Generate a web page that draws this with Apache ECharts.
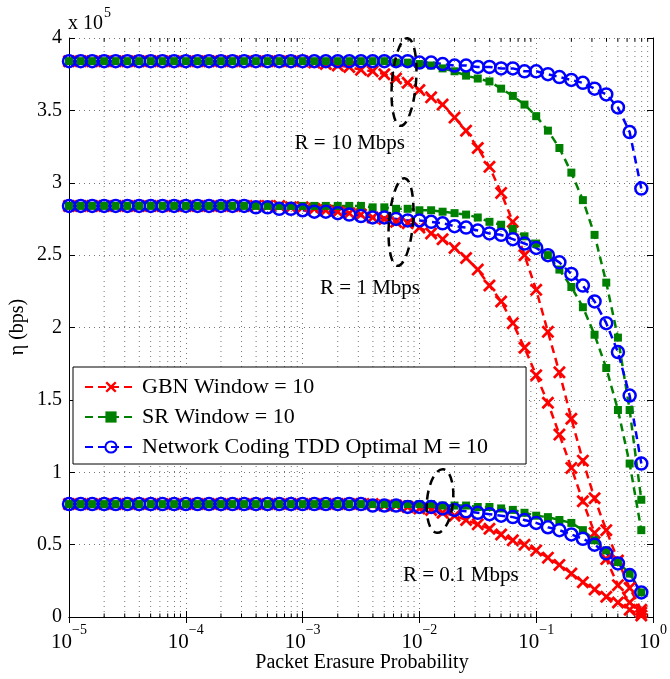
<!DOCTYPE html>
<html>
<head>
<meta charset="utf-8">
<script src="https://cdn.jsdelivr.net/npm/echarts@6/dist/echarts.min.js"></script>
<style>
  html, body { margin: 0; padding: 0; background: #fff; }
  #main { width: 670px; height: 679px; }
</style>
</head>
<body>
<div id="main"></div>
<script>
// packet erasure probability (10 points per decade)
var pValues = [
  1.00e-5, 1.26e-5, 1.58e-5, 2.00e-5, 2.51e-5, 3.16e-5, 3.98e-5, 5.01e-5, 6.31e-5, 7.94e-5,
  1.00e-4, 1.26e-4, 1.58e-4, 2.00e-4, 2.51e-4, 3.16e-4, 3.98e-4, 5.01e-4, 6.31e-4, 7.94e-4,
  1.00e-3, 1.26e-3, 1.58e-3, 2.00e-3, 2.51e-3, 3.16e-3, 3.98e-3, 5.01e-3, 6.31e-3, 7.94e-3,
  1.00e-2, 1.26e-2, 1.58e-2, 2.00e-2, 2.51e-2, 3.16e-2, 3.98e-2, 5.01e-2, 6.31e-2, 7.94e-2,
  1.00e-1, 1.26e-1, 1.58e-1, 2.00e-1, 2.51e-1, 3.16e-1, 3.98e-1, 5.01e-1, 6.31e-1, 7.94e-1
];

// throughput, units of 10^5 bps
// R = 10 Mbps
var gbn10 = [
  3.84, 3.84, 3.84, 3.84, 3.84, 3.84, 3.84, 3.84, 3.84, 3.84,
  3.84, 3.84, 3.84, 3.84, 3.84, 3.84, 3.84, 3.84, 3.84, 3.84,
  3.84, 3.83, 3.82, 3.81, 3.80, 3.78, 3.77, 3.75, 3.72, 3.69,
  3.64, 3.59, 3.54, 3.45, 3.36, 3.24, 3.11, 2.93, 2.73, 2.50,
  2.26, 1.97, 1.69, 1.37, 1.08, 0.82, 0.60, 0.39, 0.20, 0.05
];
var sr10 = [
  3.84, 3.84, 3.84, 3.84, 3.84, 3.84, 3.84, 3.84, 3.84, 3.84,
  3.84, 3.84, 3.84, 3.84, 3.84, 3.84, 3.84, 3.84, 3.84, 3.84,
  3.84, 3.84, 3.84, 3.84, 3.84, 3.84, 3.84, 3.84, 3.83, 3.83,
  3.82, 3.81, 3.79, 3.77, 3.74, 3.72, 3.70, 3.65, 3.60, 3.54,
  3.46, 3.36, 3.24, 3.07, 2.88, 2.64, 2.31, 1.93, 1.43, 0.81
];
var nc10 = [
  3.84, 3.84, 3.84, 3.84, 3.84, 3.84, 3.84, 3.84, 3.84, 3.84,
  3.84, 3.84, 3.84, 3.84, 3.84, 3.84, 3.84, 3.84, 3.84, 3.84,
  3.84, 3.84, 3.84, 3.84, 3.84, 3.84, 3.84, 3.84, 3.84, 3.84,
  3.83, 3.83, 3.82, 3.81, 3.81, 3.80, 3.80, 3.79, 3.79, 3.77,
  3.77, 3.75, 3.73, 3.71, 3.69, 3.65, 3.61, 3.52, 3.35, 2.96
];
// R = 1 Mbps
var gbn1 = [
  2.84, 2.84, 2.84, 2.84, 2.84, 2.84, 2.84, 2.84, 2.84, 2.84,
  2.84, 2.84, 2.84, 2.84, 2.84, 2.84, 2.84, 2.84, 2.84, 2.83,
  2.83, 2.82, 2.81, 2.80, 2.79, 2.78, 2.76, 2.75, 2.73, 2.72,
  2.69, 2.65, 2.61, 2.55, 2.48, 2.40, 2.29, 2.18, 2.03, 1.86,
  1.67, 1.48, 1.26, 1.03, 0.80, 0.58, 0.40, 0.22, 0.10, 0.03
];
var sr1 = [
  2.84, 2.84, 2.84, 2.84, 2.84, 2.84, 2.84, 2.84, 2.84, 2.84,
  2.84, 2.84, 2.84, 2.84, 2.84, 2.84, 2.84, 2.84, 2.84, 2.84,
  2.84, 2.84, 2.84, 2.84, 2.84, 2.84, 2.83, 2.83, 2.82, 2.82,
  2.81, 2.81, 2.80, 2.79, 2.78, 2.76, 2.73, 2.71, 2.68, 2.63,
  2.58, 2.50, 2.40, 2.28, 2.14, 1.95, 1.72, 1.43, 1.06, 0.60
];
var nc1 = [
  2.84, 2.84, 2.84, 2.84, 2.84, 2.84, 2.84, 2.84, 2.84, 2.84,
  2.84, 2.84, 2.84, 2.84, 2.84, 2.84, 2.83, 2.83, 2.82, 2.82,
  2.81, 2.80, 2.80, 2.79, 2.78, 2.77, 2.76, 2.76, 2.75, 2.74,
  2.74, 2.73, 2.72, 2.70, 2.69, 2.67, 2.65, 2.64, 2.61, 2.58,
  2.55, 2.50, 2.45, 2.37, 2.29, 2.18, 2.03, 1.83, 1.53, 1.06
];
// R = 0.1 Mbps
var gbn01 = [
  0.78, 0.78, 0.78, 0.78, 0.78, 0.78, 0.78, 0.78, 0.78, 0.78,
  0.78, 0.78, 0.78, 0.78, 0.78, 0.78, 0.78, 0.78, 0.78, 0.78,
  0.78, 0.78, 0.78, 0.78, 0.78, 0.78, 0.78, 0.77, 0.77, 0.76,
  0.75, 0.74, 0.72, 0.70, 0.67, 0.64, 0.61, 0.57, 0.53, 0.50,
  0.46, 0.41, 0.36, 0.30, 0.24, 0.19, 0.14, 0.10, 0.05, 0.01
];
var sr01 = [
  0.78, 0.78, 0.78, 0.78, 0.78, 0.78, 0.78, 0.78, 0.78, 0.78,
  0.78, 0.78, 0.78, 0.78, 0.78, 0.78, 0.78, 0.78, 0.78, 0.78,
  0.78, 0.78, 0.78, 0.78, 0.78, 0.78, 0.78, 0.78, 0.78, 0.78,
  0.78, 0.78, 0.77, 0.77, 0.77, 0.76, 0.76, 0.75, 0.74, 0.72,
  0.70, 0.69, 0.67, 0.65, 0.60, 0.53, 0.46, 0.38, 0.30, 0.17
];
var nc01 = [
  0.78, 0.78, 0.78, 0.78, 0.78, 0.78, 0.78, 0.78, 0.78, 0.78,
  0.78, 0.78, 0.78, 0.78, 0.78, 0.78, 0.78, 0.78, 0.78, 0.78,
  0.78, 0.78, 0.78, 0.78, 0.78, 0.78, 0.77, 0.77, 0.77, 0.76,
  0.76, 0.76, 0.75, 0.74, 0.73, 0.72, 0.71, 0.70, 0.69, 0.67,
  0.65, 0.62, 0.60, 0.57, 0.54, 0.50, 0.44, 0.37, 0.29, 0.17
];

var xTickExp = { '-5': '−5', '-4': '−4', '-3': '−3', '-2': '−2', '-1': '−1', '0': '0' };
var yTickLabels = ['0', '0.5', '1', '1.5', '2', '2.5', '3', '3.5', '4'];
var legendNames = ['GBN Window = 10', 'SR Window = 10', 'Network Coding TDD Optimal M = 10'];

// log-axis minor grid positions (2..9 in each decade)
var minorX = [];
for (var d = -5; d < 0; d++) {
  for (var m = 2; m <= 9; m++) minorX.push([m * Math.pow(10, d)]);
}

var FONT = 'Liberation Serif';
var RED = '#ff0000', GREEN = '#008000', BLUE = '#0000ff';
var CROSS = 'path://M0,3L3,0L10,7L17,0L20,3L13,10L20,17L17,20L10,13L3,20L0,17L7,10Z';
var DASH = [8, 5];

function pairs(arr) {
  return pValues.map(function (p, i) { return [p, arr[i]]; });
}

function gbnSeries(arr) {
  return {
    name: legendNames[0], type: 'line', data: pairs(arr),
    symbol: CROSS, symbolSize: 13, showAllSymbol: true,
    itemStyle: { color: RED },
    lineStyle: { color: RED, width: 2.5, type: DASH },
    silent: true, animation: false
  };
}
function srSeries(arr) {
  return {
    name: legendNames[1], type: 'line', data: pairs(arr),
    symbol: 'rect', symbolSize: 8, showAllSymbol: true,
    itemStyle: { color: GREEN },
    lineStyle: { color: GREEN, width: 2.5, type: DASH },
    silent: true, animation: false
  };
}
function ncSeries(arr) {
  return {
    name: legendNames[2], type: 'line', data: pairs(arr),
    symbol: 'circle', symbolSize: 12, showAllSymbol: true,
    itemStyle: { color: 'rgba(255,255,255,0)', borderColor: BLUE, borderWidth: 2.5 },
    lineStyle: { color: BLUE, width: 2.5, type: DASH },
    silent: true, animation: false
  };
}

var gridStyle = { color: '#777', width: 1, type: [1, 4] };
var labelRich = {
  b: { fontFamily: FONT, fontSize: 21, color: '#000', lineHeight: 30, verticalAlign: 'bottom' },
  s: { fontFamily: FONT, fontSize: 14, color: '#000', lineHeight: 14, verticalAlign: 'top' }
};

var chart = echarts.init(document.getElementById('main'), null, { renderer: 'canvas' });

var option = {
  animation: false,
  backgroundColor: '#fff',
  grid: { left: 69, right: 14, top: 38, bottom: 62 },
  xAxis: [{
    type: 'log', logBase: 10, min: 1e-5, max: 1,
    axisLine: { lineStyle: { color: '#000', width: 1 } },
    axisTick: { inside: true, length: 6, lineStyle: { color: '#000' } },
    axisLabel: {
      margin: 6,
      formatter: function (v) {
        var e = String(Math.round(Math.log(v) / Math.LN10));
        return '{b|10}{s|' + xTickExp[e] + '}';
      },
      rich: labelRich
    },
    splitLine: { show: true, lineStyle: gridStyle }
  }, {
    type: 'log', logBase: 10, min: 1e-5, max: 1, position: 'top',
    axisLine: { lineStyle: { color: '#000', width: 1 } },
    axisTick: { inside: true, length: 6, lineStyle: { color: '#000' } },
    axisLabel: { show: false }, splitLine: { show: false }
  }],
  yAxis: [{
    type: 'value', min: 0, max: 4, interval: 0.5,
    axisLine: { show: true, lineStyle: { color: '#000', width: 1 } },
    axisTick: { show: true, inside: true, length: 6, lineStyle: { color: '#000' } },
    axisLabel: {
      margin: 7, fontFamily: FONT, fontSize: 20, color: '#000',
      formatter: function (v) { return yTickLabels[Math.round(v * 2)]; }
    },
    splitLine: { show: true, lineStyle: gridStyle }
  }, {
    type: 'value', min: 0, max: 4, interval: 0.5, position: 'right',
    axisLine: { show: true, lineStyle: { color: '#000', width: 1 } },
    axisTick: { show: true, inside: true, length: 6, lineStyle: { color: '#000' } },
    axisLabel: { show: false }, splitLine: { show: false }
  }],
  legend: {
    orient: 'vertical', left: 73, top: 367,
    data: legendNames,
    itemWidth: 52, itemHeight: 14, itemGap: 8,
    padding: [9, 38, 6, 11],
    backgroundColor: '#fff', borderColor: '#000', borderWidth: 1,
    textStyle: { fontFamily: FONT, fontSize: 22, color: '#000' },
    selectedMode: false, z: 10
  },
  series: [{
    type: 'custom', data: minorX, silent: true, z: 1,
    renderItem: function (params, api) {
      var b = api.coord([api.value(0), 0]);
      var t = api.coord([api.value(0), 4]);
      return {
        type: 'group',
        children: [
          { type: 'line', shape: { x1: b[0], y1: b[1], x2: t[0], y2: t[1] }, style: { stroke: '#777', lineWidth: 1, lineDash: [1, 4] } },
          { type: 'line', shape: { x1: b[0], y1: b[1], x2: b[0], y2: b[1] - 3.5 }, style: { stroke: '#000', lineWidth: 1 } },
          { type: 'line', shape: { x1: t[0], y1: t[1], x2: t[0], y2: t[1] + 3.5 }, style: { stroke: '#000', lineWidth: 1 } }
        ]
      };
    }
  },
    gbnSeries(gbn10), gbnSeries(gbn1), gbnSeries(gbn01),
    srSeries(sr10), srSeries(sr1), srSeries(sr01),
    ncSeries(nc10), ncSeries(nc1), ncSeries(nc01)
  ],
  graphic: [
    { type: 'text', left: 68, top: 6, z: 20,
      style: { text: '{a|x 10}{s|5}', rich: {
        a: { fontFamily: FONT, fontSize: 20, lineHeight: 28, verticalAlign: 'bottom', fill: '#000' },
        s: { fontFamily: FONT, fontSize: 14, lineHeight: 14, padding: [0, 0, 0, 1], verticalAlign: 'top', fill: '#000' }
      } } },
    { type: 'text', x: 18, y: 327, rotation: Math.PI / 2, z: 20,
      style: { text: 'η (bps)', fontFamily: FONT, fontSize: 20, fill: '#000', align: 'center', verticalAlign: 'middle' } },
    { type: 'text', x: 362, y: 663, z: 20,
      style: { text: 'Packet Erasure Probability', fontFamily: FONT, fontSize: 20, fill: '#000', align: 'center', verticalAlign: 'middle' } },
    { type: 'text', x: 405, y: 143, z: 20,
      style: { text: 'R = 10 Mbps', fontFamily: FONT, fontSize: 21, fill: '#000', align: 'right', verticalAlign: 'middle' } },
    { type: 'text', x: 420, y: 288, z: 20,
      style: { text: 'R = 1 Mbps', fontFamily: FONT, fontSize: 21, fill: '#000', align: 'right', verticalAlign: 'middle' } },
    { type: 'text', x: 403, y: 575, z: 20,
      style: { text: 'R = 0.1 Mbps', fontFamily: FONT, fontSize: 21, fill: '#000', align: 'left', verticalAlign: 'middle' } },
    { type: 'ellipse', x: 404, y: 82, rotation: -0.08, z: 20, shape: { cx: 0, cy: 0, rx: 12, ry: 44 },
      style: { fill: 'none', stroke: '#000', lineWidth: 2.5, lineDash: [9, 6] } },
    { type: 'ellipse', x: 401, y: 222, rotation: -0.08, z: 20, shape: { cx: 0, cy: 0, rx: 12, ry: 44 },
      style: { fill: 'none', stroke: '#000', lineWidth: 2.5, lineDash: [9, 6] } },
    { type: 'ellipse', x: 440, y: 501, rotation: -0.1, z: 20, shape: { cx: 0, cy: 0, rx: 13, ry: 32 },
      style: { fill: 'none', stroke: '#000', lineWidth: 2.5, lineDash: [9, 6] } }
  ]
};

chart.setOption(option);
</script>
</body>
</html>
